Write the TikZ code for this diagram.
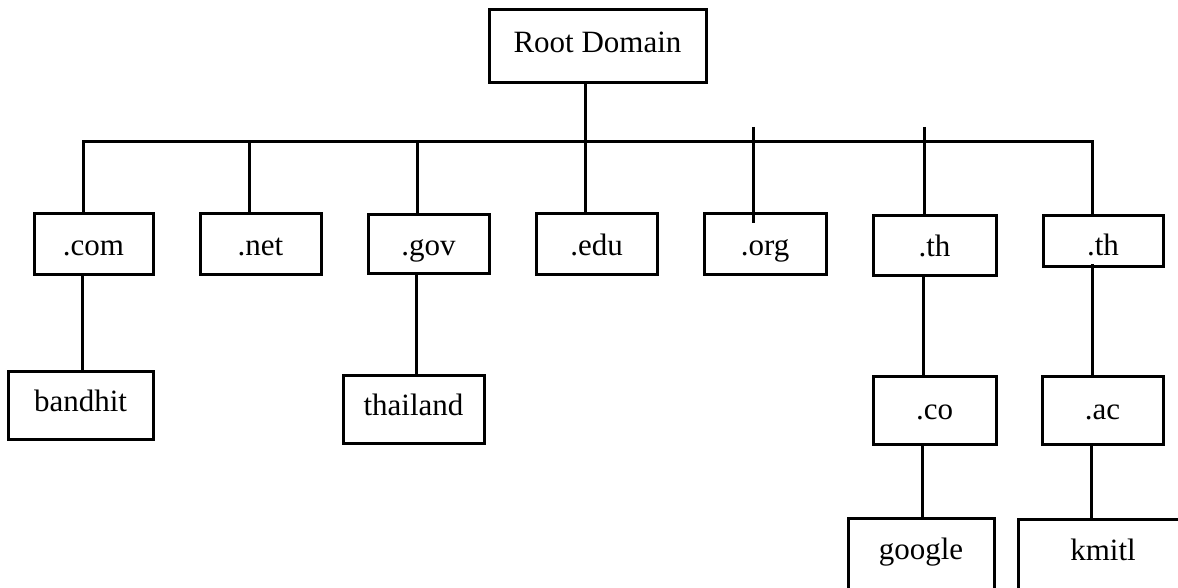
\documentclass[tikz,border=0pt]{standalone}
\usepackage{fontspec}
\setmainfont{Liberation Serif}
\begin{document}
\begin{tikzpicture}[x=1pt,y=-1pt,
  box/.style={draw, line width=3pt, rectangle, inner sep=0pt,
    font=\fontsize{31}{36}\selectfont, text height=24pt, text depth=2pt},
  upper/.style={text height=21pt, text depth=8pt},
  conn/.style={line width=3pt}]
\useasboundingbox (0,0) rectangle (1178,588);
\clip (0,0) rectangle (1178,588);
% top level
\node[box, upper, minimum width=217pt, minimum height=73pt] (root) at (597.5,46.5) {Root Domain};
% second level
\node[box, minimum width=119pt, minimum height=60pt] (com) at (93.5,244) {.com};
\node[box, minimum width=121pt, minimum height=60pt] (net) at (260.5,244) {.net};
\node[box, minimum width=121pt, minimum height=58pt] (gov) at (428.5,244) {.gov};
\node[box, minimum width=121pt, minimum height=60pt] (edu) at (596.5,244) {.edu};
\node[box, minimum width=122pt, minimum height=60pt] (org) at (765,244) {.org};
\node[box, minimum width=123pt, minimum height=59pt] (th1) at (934.5,245.5) {.th};
\node[box, minimum width=120pt, minimum height=50pt, text height=28pt, text depth=0pt] (th2) at (1103,241) {.th};
% third level
\node[box, upper, minimum width=145pt, minimum height=68pt] (bandhit) at (80.5,405) {bandhit};
\node[box, upper, minimum width=141pt, minimum height=68pt] (thailand) at (413.5,409) {thailand};
\node[box, text height=22pt, text depth=4pt, minimum width=123pt, minimum height=68pt] (co) at (934.5,410) {.co};
\node[box, text height=22pt, text depth=4pt, minimum width=121pt, minimum height=68pt] (ac) at (1102.5,410) {.ac};
% fourth level (cut by the picture's edge)
\node[box, anchor=north, minimum width=146pt, inner ysep=0pt, text height=41pt, text depth=50pt] (google) at (921,517) {google};
\node[box, anchor=north, minimum width=170pt, inner ysep=0pt, text height=41pt, text depth=50pt] (kmitl) at (1103,518) {kmitl};
% bus
\coordinate (bus) at (0,142);
\coordinate (cT) at ([xshift=-10.5pt]com.north);
\coordinate (nT) at ([xshift=-11.5pt]net.north);
\coordinate (gT) at ([xshift=-11.5pt]gov.north);
\coordinate (t2T) at ([xshift=-11pt]th2.north);
\draw[conn] (cT) -- (cT |- bus) -- (t2T |- bus) -- (t2T);
\draw[conn] (nT |- bus) -- (nT);
\draw[conn] (gT |- bus) -- (gT);
% root to .edu
\coordinate (rB) at ([xshift=-12.5pt]root.south);
\draw[conn] (rB) -- (rB |- edu.north);
% .org and .th lines that start above the bus
\coordinate (oIn) at ([xshift=-12pt,yshift=-11pt]org.north);
\coordinate (oTop) at (oIn |- 0,127);
\draw[conn] (oTop) -- (oIn);
\coordinate (t1In) at ([xshift=-10.5pt,yshift=-2pt]th1.north);
\coordinate (t1Top) at (t1In |- 0,127);
\draw[conn] (t1Top) -- (t1In);
% lower links
\coordinate (cB) at ([xshift=-11.5pt]com.south);
\draw[conn] (cB) -- (cB |- bandhit.north);
\coordinate (gB) at ([xshift=-12.5pt]gov.south);
\draw[conn] (gB) -- (gB |- thailand.north);
\coordinate (t1B) at ([xshift=-11.5pt]th1.south);
\draw[conn] (t1B) -- (t1B |- co.north);
\coordinate (coB) at ([xshift=-12.5pt]co.south);
\draw[conn] (coB) -- (coB |- google.north);
\coordinate (acT) at ([xshift=-10.5pt]ac.north);
\coordinate (t2In) at ([yshift=4pt]acT |- th2.south);
\draw[conn] (acT) -- (t2In);
\coordinate (acB) at ([xshift=-11.5pt]ac.south);
\draw[conn] (acB) -- (acB |- kmitl.north);
\end{tikzpicture}
\end{document}
